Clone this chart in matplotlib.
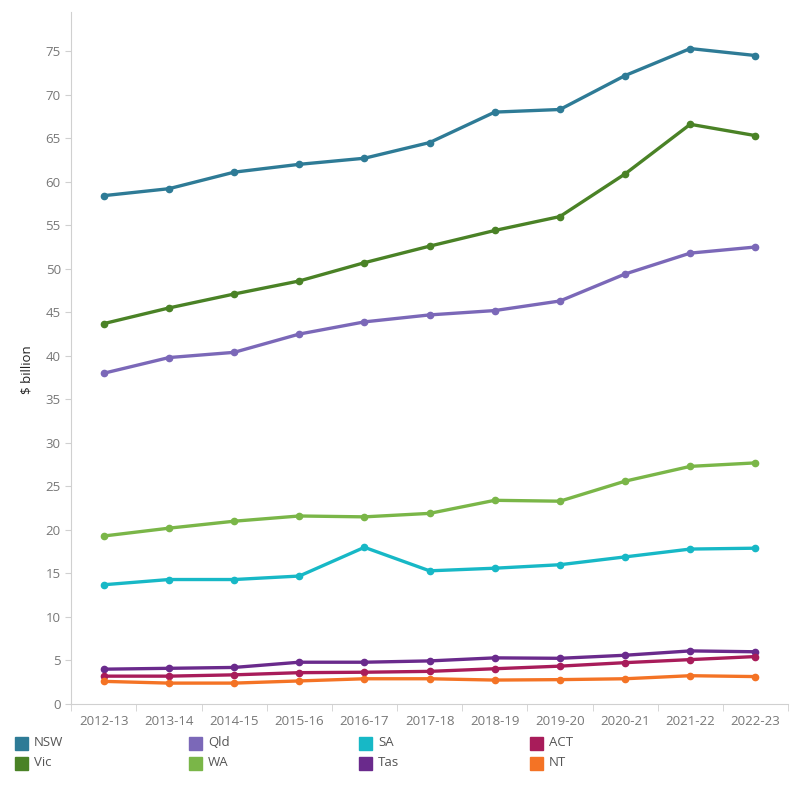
import matplotlib.pyplot as plt
from matplotlib.patches import Rectangle

years = ['2012-13', '2013-14', '2014-15', '2015-16', '2016-17', '2017-18',
         '2018-19', '2019-20', '2020-21', '2021-22', '2022-23']

nsw = [58.4, 59.2, 61.1, 62.0, 62.7, 64.5, 68.0, 68.3, 72.2, 75.3, 74.5]
vic = [43.7, 45.5, 47.1, 48.6, 50.7, 52.6, 54.4, 56.0, 60.9, 66.6, 65.3]
qld = [38.0, 39.8, 40.4, 42.5, 43.9, 44.7, 45.2, 46.3, 49.4, 51.8, 52.5]
wa = [19.3, 20.2, 21.0, 21.6, 21.5, 21.9, 23.4, 23.3, 25.6, 27.3, 27.7]
sa = [13.7, 14.3, 14.3, 14.7, 18.0, 15.3, 15.6, 16.0, 16.9, 17.8, 17.9]
tas = [4.0, 4.1, 4.2, 4.8, 4.8, 4.95, 5.3, 5.25, 5.6, 6.1, 6.0]
act = [3.2, 3.2, 3.35, 3.6, 3.65, 3.75, 4.05, 4.35, 4.75, 5.1, 5.45]
nt = [2.6, 2.4, 2.4, 2.65, 2.9, 2.9, 2.75, 2.8, 2.9, 3.25, 3.15]

names = ['NSW', 'Vic', 'Qld', 'WA', 'SA', 'Tas', 'ACT', 'NT']
values = [nsw, vic, qld, wa, sa, tas, act, nt]
colors = ['#2e7b96', '#4a8226', '#7b68b8', '#7ab648', '#17b8c6', '#6a2a8c', '#a81c5a', '#f47325']

plt.rcParams['font.family'] = ['Open Sans', 'DejaVu Sans']

fig = plt.figure(figsize=(8, 8), dpi=100)
ax = fig.add_axes([0.089, 0.12, 0.896, 0.865])

x = list(range(len(years)))
for name, vals, c in zip(names, values, colors):
    ax.plot(x, vals, color=c, lw=2.4, marker='o', ms=4.5, solid_capstyle='round')

ax.set_xlim(-0.5, len(years) - 0.5)
ax.set_ylim(0, 79.5)
ax.set_yticks(range(0, 80, 5))
ax.set_xticks(x)
ax.set_xticklabels(years)
ax.set_xticks([i + 0.5 for i in range(-1, len(years))], minor=True)

for s in ['top', 'right']:
    ax.spines[s].set_visible(False)
for s in ['left', 'bottom']:
    ax.spines[s].set_color('#d0d0d0')

ax.tick_params(axis='y', colors='#d0d0d0', labelcolor='#777777', labelsize=9.5, length=4)
ax.tick_params(axis='x', which='major', length=0, labelcolor='#777777', labelsize=9.5, pad=8)
ax.tick_params(axis='x', which='minor', length=5, color='#d0d0d0')

ax.set_ylabel('$ billion', fontsize=9.5, color='#222222')
ax.yaxis.set_label_coords(-0.053, 0.483)

# legend, laid out in rows like the original
leg_order = ['NSW', 'Qld', 'SA', 'ACT', 'Vic', 'WA', 'Tas', 'NT']
col_x = [15, 189, 359, 530]
row_y = [743, 763]
for i, name in enumerate(leg_order):
    c = colors[names.index(name)]
    px = col_x[i % 4]
    py = row_y[i // 4]
    fig.patches.append(Rectangle((px / 800, 1 - (py + 7) / 800), 13 / 800, 13 / 800,
                                 transform=fig.transFigure, color=c))
    fig.text((px + 19) / 800, 1 - py / 800, name, fontsize=9.5, color='#555555',
             va='center', ha='left')

fig.savefig('out.png', dpi=100)
